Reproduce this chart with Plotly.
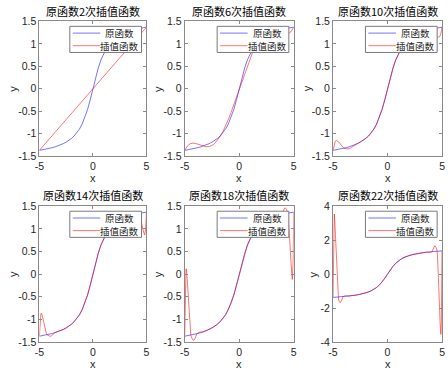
import plotly.graph_objects as go

# ---------------- data ----------------
TITLES = ["原函数2次插值函数", "原函数6次插值函数", "原函数10次插值函数",
          "原函数14次插值函数", "原函数18次插值函数", "原函数22次插值函数"]
LEGEND_NAMES = ["原函数", "插值函数"]

X_TICKS = [-5, 0, 5]
X_TICK_TEXT = ["-5", "0", "5"]
Y_TICKS = [-1.5, -1, -0.5, 0, 0.5, 1, 1.5]
Y_TICK_TEXT = ["-1.5", "-1", "-0.5", "0", "0.5", "1", "1.5"]
Y_TICKS_WIDE = [-4, -2, 0, 2, 4]
Y_TICK_TEXT_WIDE = ["-4", "-2", "0", "2", "4"]

X_ORIG = [-5, -4.75, -4.5, -4.25, -4, -3.75, -3.5, -3.25, -3, -2.75, -2.5, -2.25, -2, -1.75,
          -1.5, -1.25, -1, -0.75, -0.5, -0.25, 0, 0.25, 0.5, 0.75, 1, 1.25, 1.5, 1.75, 2,
          2.25, 2.5, 2.75, 3, 3.25, 3.5, 3.75, 4, 4.25, 4.5, 4.75, 5]
Y_ORIG = [-1.3734, -1.3633, -1.3521, -1.3397, -1.3258, -1.3102, -1.2925, -1.2723, -1.2490,
          -1.2220, -1.1903, -1.1526, -1.1071, -1.0517, -0.9828, -0.8961, -0.7854, -0.6435,
          -0.4636, -0.2450, 0, 0.2450, 0.4636, 0.6435, 0.7854, 0.8961, 0.9828, 1.0517, 1.1071,
          1.1526, 1.1903, 1.2220, 1.2490, 1.2723, 1.2925, 1.3102, 1.3258, 1.3397, 1.3521,
          1.3633, 1.3734]

X_INT2 = [-5, 0, 5]
Y_INT2 = [-1.3734, 0, 1.3734]

X_INT6 = [-5, -4.75, -4.5, -4.25, -4, -3.75, -3.5, -3.25, -3, -2.75, -2.5, -2.25, -2, -1.75,
          -1.5, -1.25, -1, -0.75, -0.5, -0.25, 0, 0.25, 0.5, 0.75, 1, 1.25, 1.5, 1.75, 2,
          2.25, 2.5, 2.75, 3, 3.25, 3.5, 3.75, 4, 4.25, 4.5, 4.75, 5]
Y_INT6 = [-1.3734, -1.2747, -1.2258, -1.2119, -1.2210, -1.2418, -1.2656, -1.2848, -1.2936,
          -1.2874, -1.2629, -1.2180, -1.1518, -1.0642, -0.9560, -0.8288, -0.6847, -0.5264,
          -0.3572, -0.1805, 0, 0.1805, 0.3572, 0.5264, 0.6847, 0.8288, 0.9560, 1.0642, 1.1518,
          1.2180, 1.2629, 1.2874, 1.2936, 1.2848, 1.2656, 1.2418, 1.2210, 1.2119, 1.2258,
          1.2747, 1.3734]

X_INT10 = [-5, -4.9, -4.8, -4.7, -4.6, -4.5, -4.4, -4.3, -4.2, -4.1, -4, -3.8, -3.6, -3.4, -3.2,
           -3, -2.75, -2.5, -2.25, -2, -1.75, -1.5, -1.25, -1, -0.75, -0.5, -0.25, 0,
           0.25, 0.5, 0.75, 1, 1.25, 1.5, 1.75, 2, 2.25, 2.5, 2.75, 3, 3.2, 3.4, 3.6, 3.8, 4,
           4.1, 4.2, 4.3, 4.4, 4.5, 4.6, 4.7, 4.8, 4.9, 5]
Y_INT10 = [-1.3734, -1.237, -1.171, -1.151, -1.159, -1.182, -1.212, -1.245, -1.276, -1.303,
           -1.3258, -1.339, -1.340, -1.321, -1.286, -1.2490, -1.216, -1.182, -1.148, -1.1071,
           -1.058, -0.985, -0.900, -0.7854, -0.637, -0.455, -0.240, 0,
           0.240, 0.455, 0.637, 0.7854, 0.900, 0.985, 1.058, 1.1071, 1.148, 1.182, 1.216,
           1.2490, 1.286, 1.321, 1.340, 1.339, 1.3258, 1.303, 1.276, 1.245, 1.212, 1.182,
           1.159, 1.151, 1.171, 1.237, 1.3734]

X_INT14 = [-5, -4.964, -4.929, -4.893, -4.857, -4.821, -4.786, -4.714, -4.643, -4.571, -4.5,
           -4.429, -4.357, -4.286, -4.143, -4.0, -3.857, -3.714, -3.571, -3.25, -3, -2.75,
           -2.5, -2.25, -2, -1.75, -1.5, -1.25, -1, -0.75, -0.5, -0.25, 0,
           0.25, 0.5, 0.75, 1, 1.25, 1.5, 1.75, 2, 2.25, 2.5, 2.75, 3, 3.25, 3.571, 3.714,
           3.857, 4.0, 4.143, 4.286, 4.357, 4.429, 4.5, 4.571, 4.643, 4.714, 4.786, 4.821,
           4.857, 4.893, 4.929, 4.964, 5]
Y_INT14 = [-1.3734, -1.155, -1.012, -0.924, -0.880, -0.866, -0.875, -0.934, -1.019, -1.106,
           -1.185, -1.252, -1.303, -1.3417, -1.368, -1.376, -1.361, -1.332, -1.2979, -1.264,
           -1.2490, -1.2220, -1.1903, -1.1526, -1.1071, -1.0517, -0.9828, -0.8961, -0.7854,
           -0.6435, -0.4636, -0.2450, 0,
           0.2450, 0.4636, 0.6435, 0.7854, 0.8961, 0.9828, 1.0517, 1.1071, 1.1526, 1.1903,
           1.2220, 1.2490, 1.264, 1.2979, 1.332, 1.361, 1.376, 1.368, 1.3417, 1.303, 1.252,
           1.185, 1.106, 1.019, 0.934, 0.875, 0.866, 0.880, 0.924, 1.012, 1.155, 1.3734]

X_INT18 = [-5, -4.972, -4.944, -4.917, -4.889, -4.861, -4.833, -4.778, -4.722, -4.667, -4.611,
           -4.556, -4.5, -4.444, -4.389, -4.333, -4.278, -4.222, -4.167, -4.111, -4.056, -4.0,
           -3.944, -3.889, -3.611, -3.333, -3, -2.75, -2.5, -2.25, -2, -1.75, -1.5, -1.25, -1,
           -0.75, -0.5, -0.25, 0,
           0.25, 0.5, 0.75, 1, 1.25, 1.5, 1.75, 2, 2.25, 2.5, 2.75, 3, 3.333, 3.611, 3.889,
           3.944, 4.0, 4.056, 4.111, 4.167, 4.222, 4.278, 4.333, 4.389, 4.444, 4.5, 4.556,
           4.611, 4.667, 4.722, 4.778, 4.833, 4.861, 4.889, 4.917, 4.944, 4.972, 5]
Y_INT18 = [-1.3734, -0.727, -0.305, -0.048, 0.080, 0.117, 0.087, -0.094, -0.352, -0.619,
           -0.861, -1.067, -1.229, -1.3495, -1.396, -1.432, -1.458, -1.468, -1.462, -1.446,
           -1.420, -1.388, -1.353, -1.3194, -1.281, -1.2793, -1.2490, -1.2220, -1.1903,
           -1.1526, -1.1071, -1.0517, -0.9828, -0.8961, -0.7854, -0.6435, -0.4636, -0.2450, 0,
           0.2450, 0.4636, 0.6435, 0.7854, 0.8961, 0.9828, 1.0517, 1.1071, 1.1526, 1.1903,
           1.2220, 1.2490, 1.2793, 1.281, 1.3194, 1.353, 1.388, 1.420, 1.446, 1.462, 1.468,
           1.458, 1.432, 1.396, 1.3495, 1.229, 1.067, 0.861, 0.619, 0.352, 0.094, -0.087,
           -0.117, -0.080, 0.048, 0.305, 0.727, 1.3734]

X_INT22 = [-5, -4.977, -4.955, -4.932, -4.909, -4.886, -4.864, -4.818, -4.773, -4.727, -4.682,
           -4.636, -4.591, -4.545, -4.5, -4.455, -4.409, -4.364, -4.318, -4.273, -4.227,
           -4.182, -4.136, -4.091, -3.977, -3.864, -3.75, -3.636, -3.25, -3, -2.5, -2, -1.5,
           -1, -0.5, 0,
           0.5, 1, 1.5, 2, 2.5, 3, 3.25, 3.636, 3.75, 3.864, 3.977, 4.091, 4.136, 4.182,
           4.227, 4.273, 4.318, 4.364, 4.409, 4.455, 4.5, 4.545, 4.591, 4.636, 4.682, 4.727,
           4.773, 4.818, 4.864, 4.886, 4.909, 4.932, 4.955, 4.977, 5]
Y_INT22 = [-1.3734, 0.76, 2.16, 3.01, 3.43, 3.55, 3.45, 2.85, 1.99, 1.10, 0.28, -0.41, -0.95,
           -1.3543, -1.477, -1.574, -1.645, -1.675, -1.666, -1.631, -1.569, -1.494, -1.412,
           -1.331, -1.295, -1.278, -1.280, -1.3018, -1.2723, -1.2490, -1.1903, -1.1071,
           -0.9828, -0.7854, -0.4636, 0,
           0.4636, 0.7854, 0.9828, 1.1071, 1.1903, 1.2490, 1.2723, 1.3018, 1.280, 1.278,
           1.295, 1.331, 1.412, 1.494, 1.569, 1.631, 1.666, 1.675, 1.645, 1.574, 1.477,
           1.3543, 0.95, 0.41, -0.28, -1.10, -1.99, -2.85, -3.45, -3.55, -3.43, -3.01, -2.16,
           -0.76, 1.3734]

INTERP_X = [X_INT2, X_INT6, X_INT10, X_INT14, X_INT18, X_INT22]
INTERP_Y = [Y_INT2, Y_INT6, Y_INT10, Y_INT14, Y_INT18, Y_INT22]

# ---------------- layout geometry (pixels) ----------------
W, H = 448, 376
COLS = [(35, 144), (183, 294), (334, 445)]
ROWS = [(16, 155), (207, 347)]

FONT = "Liberation Sans, Arial, Noto Sans CJK SC, sans-serif"
CJK = "Noto Sans CJK SC, sans-serif"
BLUE = "rgba(0,0,255,0.55)"
RED = "rgba(255,0,0,0.55)"
AXC = "#8a8a8a"
TXT = "#262626"


def px(x):
    return x / W


def py(y):
    return 1 - y / H


fig = go.Figure()
layout = dict(width=W, height=H, margin=dict(l=0, r=0, t=0, b=0),
              paper_bgcolor="white", plot_bgcolor="white", showlegend=False,
              font=dict(family=FONT, size=10.5, color=TXT))
annotations = []
shapes = []

for i in range(6):
    r, c = divmod(i, 3)
    x0, x1 = COLS[c]
    y0, y1 = ROWS[r]
    sfx = "" if i == 0 else str(i + 1)
    xa, ya = "x" + sfx, "y" + sfx
    wide = (i == 5)

    fig.add_trace(go.Scatter(x=X_ORIG, y=Y_ORIG, mode="lines", name=LEGEND_NAMES[0],
                             line=dict(color=BLUE, width=1), xaxis=xa, yaxis=ya))
    fig.add_trace(go.Scatter(x=INTERP_X[i], y=INTERP_Y[i], mode="lines", name=LEGEND_NAMES[1],
                             line=dict(color=RED, width=1), xaxis=xa, yaxis=ya))

    axcommon = dict(showgrid=False, zeroline=False, showline=True, linecolor=AXC, linewidth=1,
                    mirror="allticks", ticks="inside", ticklen=3, tickcolor=AXC,
                    tickfont=dict(family=FONT, size=10.5, color=TXT), fixedrange=True)
    layout["xaxis" + sfx] = dict(domain=[px(x0), px(x1)], range=[-5, 5], anchor=ya,
                                 tickvals=X_TICKS, ticktext=X_TICK_TEXT, **axcommon)
    layout["yaxis" + sfx] = dict(domain=[py(y1), py(y0)],
                                 range=[-4, 4] if wide else [-1.5, 1.5], anchor=xa,
                                 tickvals=Y_TICKS_WIDE if wide else Y_TICKS,
                                 ticktext=Y_TICK_TEXT_WIDE if wide else Y_TICK_TEXT,
                                 **axcommon)

    # legend box (drawn by hand so its compact size matches the reference)
    bx1 = x1 - 5
    bx0 = bx1 - 73
    by0 = y0 + 5
    by1 = by0 + 27
    shapes.append(dict(type="rect", xref="paper", yref="paper", x0=px(bx0), x1=px(bx1),
                       y0=py(by1), y1=py(by0), fillcolor="white",
                       line=dict(color="#7a7a7a", width=1), layer="above"))
    for k, (col, name) in enumerate(zip([BLUE, RED], LEGEND_NAMES)):
        ly = by0 + 7 + 13 * k
        shapes.append(dict(type="line", xref="paper", yref="paper", x0=px(bx0 + 3),
                           x1=px(bx0 + 31), y0=py(ly), y1=py(ly),
                           line=dict(color=col, width=1), layer="above"))
        annotations.append(dict(text=name, xref="paper", yref="paper", x=px(bx0 + 51),
                                y=py(ly), xanchor="center", yanchor="middle",
                                showarrow=False,
                                font=dict(family=CJK, size=9.5, color=TXT)))

    xc = px((x0 + x1) / 2)
    annotations.append(dict(text=TITLES[i], xref="paper", yref="paper", x=xc,
                            y=py(y0 - 1), xanchor="center", yanchor="bottom",
                            showarrow=False, font=dict(family=CJK, size=11, color="black")))
    annotations.append(dict(text="x", xref="paper", yref="paper", x=xc,
                            y=py(y1 + 23), xanchor="center", yanchor="middle",
                            showarrow=False, font=dict(family=FONT, size=11, color=TXT)))
    ylab_off = 20 if wide else 27
    annotations.append(dict(text="y", xref="paper", yref="paper", x=px(x0 - ylab_off),
                            y=py((y0 + y1) / 2), xanchor="center", yanchor="middle",
                            textangle=-90, showarrow=False,
                            font=dict(family=FONT, size=11, color=TXT)))

layout["annotations"] = annotations
layout["shapes"] = shapes
fig.update_layout(**layout)
fig.write_html("out.html", config={"displayModeBar": False},
               post_script="document.body.style.margin='0';document.body.style.overflow='hidden';")
